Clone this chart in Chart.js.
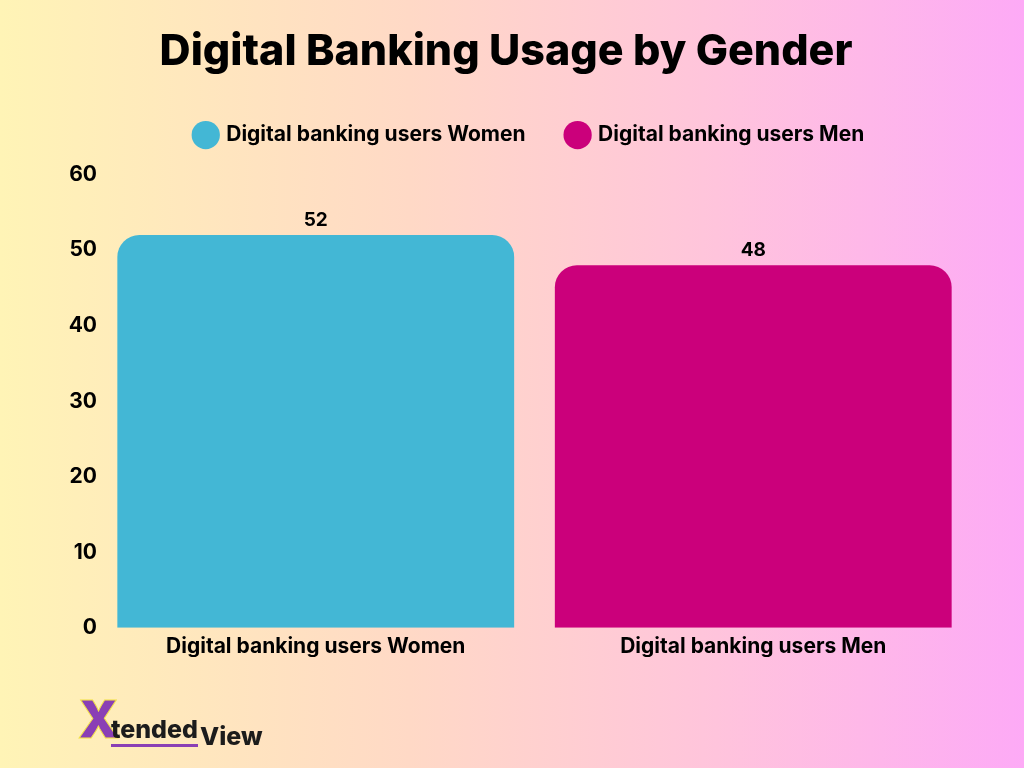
<!DOCTYPE html>
<html>
<head>
<meta charset="utf-8">
<script src="https://cdn.jsdelivr.net/npm/chart.js@4"></script>
<style>
  html, body { margin: 0; padding: 0; }
  body {
    width: 1024px; height: 768px; overflow: hidden;
    background: linear-gradient(90deg, #fff4b6 0%, #ffd9c6 40%, #ffc4dc 70%, #fdaaf6 100%);
    font-family: Inter, "Noto Sans", sans-serif;
  }
  #wrap { position: relative; width: 1024px; height: 768px; }
  #logo {
    position: absolute; left: 78px; top: 694px;
    font-weight: 800; color: #1c1c1c; white-space: nowrap;
  }
  #logo .x { font-size: 52px; color: #8a3fb5; font-weight: 900; line-height: 52px;
             -webkit-text-stroke: 1px #f2e14a; }
  #logo .t { font-size: 25px; border-bottom: 3px solid #8a3fb5; margin-left: -8px; }
  #logo .v { font-size: 25px; position: relative; top: 7px; margin-left: 2px; }
</style>
</head>
<body>
<div id="wrap">
  <canvas id="chart" width="1024" height="768"></canvas>
  <div id="logo"><span class="x">X</span><span class="t">tended</span><span class="v">View</span></div>
</div>
<script>
// データ
const categories = ['Digital banking users Women', 'Digital banking users Men'];
const usersPct = [52, 48];
const barColors = ['#43b7d5', '#cb007b'];
const yTicks = [0, 10, 20, 30, 40, 50, 60];

const labelFont = { family: 'Inter', size: 21, weight: '700' };

// 棒の上に値を描く
const valueLabels = {
  id: 'valueLabels',
  afterDatasetsDraw(chart) {
    const ctx = chart.ctx;
    const meta = chart.getDatasetMeta(0);
    ctx.save();
    ctx.font = '700 19px Inter';
    ctx.fillStyle = '#000';
    ctx.textAlign = 'center';
    ctx.textBaseline = 'bottom';
    meta.data.forEach((bar, i) => {
      ctx.fillText(usersPct[i], bar.x, bar.y - 5);
    });
    ctx.restore();
  }
};

// 凡例の下に余白を足して、少し右へずらす
const legendGap = {
  id: 'legendGap',
  afterInit(chart) {
    const fit = chart.legend.fit;
    chart.legend.fit = function () {
      fit.bind(chart.legend)();
      this.height += 19;
    };
  },
  afterLayout(chart) {
    chart.legend.left += 24;
    chart.legend.right += 24;
  }
};

new Chart(document.getElementById('chart'), {
  type: 'bar',
  data: {
    labels: categories,
    datasets: [{
      data: usersPct,
      backgroundColor: barColors,
      borderRadius: { topLeft: 22, topRight: 22 },
      borderSkipped: 'bottom',
      barPercentage: 0.907,
      categoryPercentage: 1.0
    }]
  },
  options: {
    responsive: false,
    animation: false,
    layout: { padding: { left: 40, right: 52, top: 18, bottom: 111 } },
    scales: {
      x: {
        grid: { display: false },
        border: { display: false },
        ticks: { color: '#000', font: labelFont, padding: -2 }
      },
      y: {
        min: 0, max: 60,
        afterBuildTicks: (scale) => { scale.ticks = yTicks.map(v => ({ value: v })); },
        afterFit: (scale) => { scale.width = 57; },
        grid: { display: false },
        border: { display: false },
        ticks: { color: '#000', font: labelFont, padding: -8 }
      }
    },
    plugins: {
      title: {
        display: true,
        text: 'Digital Banking Usage by Gender',
        color: '#000',
        font: { family: 'Inter', size: 43, weight: '800' },
        padding: { top: 8, bottom: 5 }
      },
      legend: {
        labels: {
          usePointStyle: true,
          pointStyle: 'circle',
          boxWidth: 20,
          boxHeight: 20,
          padding: 42,
          color: '#000',
          font: labelFont,
          generateLabels: () => categories.map((c, i) => ({
            text: c,
            fillStyle: barColors[i],
            strokeStyle: barColors[i],
            lineWidth: 0,
            pointStyle: 'circle',
            datasetIndex: 0
          }))
        }
      },
      tooltip: { enabled: false }
    }
  },
  plugins: [valueLabels, legendGap]
});
</script>
</body>
</html>
